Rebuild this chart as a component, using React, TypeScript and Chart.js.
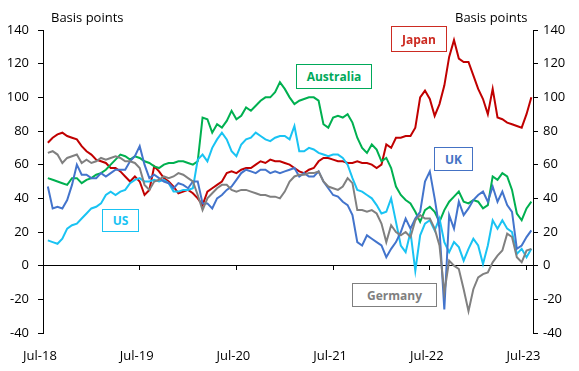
import React, { useEffect, useRef } from "react";
import { Chart, registerables } from "chart.js";

Chart.register(...registerables);

// Dates as decimal years (roughly every 18 days)
const DATES = [
  2018.55, 2018.6, 2018.65, 2018.7, 2018.75, 2018.8, 2018.85, 2018.9, 2018.95,
  2019.0, 2019.05, 2019.1, 2019.15, 2019.2, 2019.25, 2019.3, 2019.35, 2019.4, 2019.45, 2019.5,
  2019.55, 2019.6, 2019.65, 2019.7, 2019.75, 2019.8, 2019.85, 2019.9, 2019.95,
  2020.0, 2020.05, 2020.1, 2020.15, 2020.2, 2020.25, 2020.3, 2020.35, 2020.4, 2020.45, 2020.5,
  2020.55, 2020.6, 2020.65, 2020.7, 2020.75, 2020.8, 2020.85, 2020.9, 2020.95,
  2021.0, 2021.05, 2021.1, 2021.15, 2021.2, 2021.25, 2021.3, 2021.35, 2021.4, 2021.45, 2021.5,
  2021.55, 2021.6, 2021.65, 2021.7, 2021.75, 2021.8, 2021.85, 2021.9, 2021.95,
  2022.0, 2022.05, 2022.1, 2022.15, 2022.2, 2022.25, 2022.3, 2022.35, 2022.4, 2022.45, 2022.5,
  2022.55, 2022.6, 2022.65, 2022.7, 2022.75, 2022.8, 2022.85, 2022.9, 2022.95,
  2023.0, 2023.05, 2023.1, 2023.15, 2023.2, 2023.25, 2023.3, 2023.35, 2023.4, 2023.45, 2023.5,
  2023.55,
];

const JAPAN = [
  73, 76, 78, 79, 77, 76, 75, 71, 68, 66,
  63, 62, 61, 58, 58, 56, 53, 50, 53, 50,
  42, 45, 59, 56, 52, 50, 47, 43, 44, 45,
  43, 40, 36, 44, 46, 48, 50, 55, 56, 55,
  57, 58, 58, 60, 62, 61, 63, 62, 62, 61,
  60, 58, 56, 55, 57, 58, 62, 64, 64, 63,
  62, 62, 61, 61, 62, 61, 61, 60, 58, 60,
  72, 70, 76, 76, 77, 77, 82, 100, 104, 99,
  89, 96, 107, 124, 134, 123, 121, 121, 113, 105,
  99, 90, 105, 88, 87, 85, 84, 83, 82, 90, 100,
];

const AUSTRALIA = [
  52, 51, 50, 49, 48, 52, 52, 49, 51, 52,
  54, 55, 57, 60, 63, 66, 65, 63, 65, 64,
  62, 61, 59, 58, 60, 61, 61, 62, 62, 61,
  60, 62, 88, 87, 79, 84, 82, 86, 92, 87,
  89, 94, 92, 95, 98, 100, 100, 103, 109, 105,
  100, 96, 98, 99, 100, 100, 98, 84, 82, 88,
  89, 88, 90, 85, 76, 70, 67, 72, 69, 62,
  64, 58, 47, 42, 39, 37, 32, 26, 33, 35,
  32, 26, 33, 38, 41, 44, 38, 37, 39, 38,
  34, 36, 53, 51, 55, 53, 45, 31, 27, 34, 38,
];

const US = [
  15, 14, 13, 16, 22, 24, 25, 28, 31, 34,
  35, 37, 42, 44, 42, 44, 45, 49, 51, 52,
  50, 50, 51, 50, 51, 49, 44, 44, 45, 45,
  46, 63, 66, 62, 70, 75, 79, 75, 68, 65,
  72, 75, 76, 79, 77, 75, 74, 76, 77, 77,
  75, 83, 68, 68, 70, 69, 67, 66, 65, 66,
  66, 64, 60, 52, 45, 44, 42, 40, 36, 31,
  32, 40, 26, 12, 8, 20, -3, 18, 25, 27,
  21, 28, 14, 8, 14, 11, 3, 10, 16, 12,
  1, 12, 27, 22, 27, 22, 20, 7, 10, 5, 10,
];

const UK = [
  47, 34, 35, 34, 39, 48, 60, 54, 54, 52,
  52, 55, 53, 55, 57, 57, 57, 62, 65, 71,
  60, 52, 54, 52, 50, 49, 46, 49, 48, 46,
  50, 50, 37, 37, 34, 40, 42, 45, 47, 51,
  55, 57, 56, 55, 57, 57, 55, 56, 55, 56,
  57, 58, 53, 55, 53, 53, 56, 50, 46, 42,
  41, 38, 36, 30, 14, 12, 18, 16, 14, 12,
  5, 10, 14, 20, 28, 22, 28, 32, 50, 56,
  40, 22, -26, 30, 22, 38, 30, 34, 39, 42,
  44, 38, 47, 38, 44, 36, 32, 10, 12, 17, 21,
];

const GERMANY = [
  67, 68, 66, 61, 64, 65, 66, 61, 63, 61,
  62, 64, 63, 64, 65, 64, 62, 62, 61, 58,
  48, 45, 50, 51, 53, 52, 53, 55, 54, 52,
  50, 42, 33, 40, 43, 46, 48, 48, 45, 44,
  45, 45, 44, 43, 42, 42, 41, 41, 40, 44,
  50, 53, 54, 54, 55, 55, 56, 50, 47, 46,
  45, 47, 52, 49, 33, 33, 32, 33, 31, 25,
  14, 24, 20, 18, 20, 17, 27, 30, 28, 28,
  22, 12, -16, 3, 0, -2, -14, -27, -14, -7,
  -5, -4, 2, 6, 9, 19, 17, 5, 2, 9, 10,
];

const X_TICK_DATES = [2018.5, 2019.5, 2020.5, 2021.5, 2022.5, 2023.5];
const X_TICK_LABELS = ["Jul-18", "Jul-19", "Jul-20", "Jul-21", "Jul-22", "Jul-23"];
const X_MIN = 2018.5;
const X_MAX = 2023.567;
const Y_MIN = -40;
const Y_MAX = 140;
const Y_STEP = 20;
const AXIS_TITLE = "Basis points";

const SERIES = [
  { name: "Germany", values: GERMANY, color: "#808080" },
  { name: "UK", values: UK, color: "#4374CC" },
  { name: "US", values: US, color: "#19C3F3" },
  { name: "Australia", values: AUSTRALIA, color: "#00B050" },
  { name: "Japan", values: JAPAN, color: "#C00000" },
];

const LABEL_BOXES = [
  { text: "Japan", color: "#CC2B22", left: 391, top: 26, width: 56, height: 26 },
  { text: "Australia", color: "#00A95A", left: 296, top: 64, width: 76, height: 25 },
  { text: "UK", color: "#4472C4", left: 434, top: 147, width: 39, height: 24 },
  { text: "US", color: "#19C3F3", left: 102, top: 209, width: 37, height: 23 },
  { text: "Germany", color: "#7F7F7F", left: 352, top: 283, width: 85, height: 24 },
];

const FONT = "'Open Sans', 'Noto Sans', sans-serif";

export default function App() {
  const canvasRef = useRef<HTMLCanvasElement | null>(null);

  useEffect(() => {
    if (!canvasRef.current) return;
    const setTicks = (axis: any) => {
      axis.ticks = X_TICK_DATES.map((v) => ({ value: v }));
    };
    const chart = new Chart(canvasRef.current, {
      type: "line",
      data: {
        datasets: SERIES.map((s) => ({
          label: s.name,
          data: DATES.map((d, i) => ({ x: d, y: s.values[i] })),
          borderColor: s.color,
          backgroundColor: s.color,
          borderWidth: 2,
          pointRadius: 0,
          tension: 0,
          fill: false,
          xAxisID: "x",
          yAxisID: "y",
        })),
      },
      options: {
        animation: false,
        responsive: false,
        devicePixelRatio: 1,
        layout: { padding: { left: 7, right: 6, top: 30, bottom: 0 } },
        plugins: { legend: { display: false }, tooltip: { enabled: false } },
        scales: {
          x: {
            type: "linear",
            position: { y: 0 } as any,
            min: X_MIN,
            max: X_MAX,
            afterBuildTicks: setTicks,
            ticks: { display: false },
            grid: { drawOnChartArea: false, drawTicks: true, tickLength: 4, color: "#000" },
            border: { display: true, color: "#000", width: 1 },
          },
          xb: {
            type: "linear",
            position: "bottom",
            min: X_MIN,
            max: X_MAX,
            afterBuildTicks: setTicks,
            afterFit: (s: any) => {
              s.height = 38;
            },
            ticks: {
              autoSkip: false,
              maxRotation: 0,
              padding: 15,
              labelOffset: -3,
              color: "#000",
              font: { family: FONT, size: 13 },
              callback: (v: any) => {
                const i = X_TICK_DATES.indexOf(Number(v));
                return i >= 0 ? X_TICK_LABELS[i] : "";
              },
            },
            grid: { display: false, drawTicks: false },
            border: { display: false },
          },
          y: {
            position: "left",
            min: Y_MIN,
            max: Y_MAX,
            ticks: { stepSize: Y_STEP, padding: 9, color: "#000", font: { family: FONT, size: 13 } },
            grid: { drawOnChartArea: false, tickLength: 5, color: "#000" },
            border: { display: true, color: "#000", width: 1 },
            afterFit: (s: any) => {
              s.width = 36;
            },
          },
          y2: {
            position: "right",
            min: Y_MIN,
            max: Y_MAX,
            ticks: { stepSize: Y_STEP, padding: 5, color: "#000", font: { family: FONT, size: 13 } },
            grid: { drawOnChartArea: false, tickLength: 5, color: "#000" },
            border: { display: true, color: "#000", width: 1 },
            afterFit: (s: any) => {
              s.width = 40;
            },
          },
        },
      },
    });
    return () => chart.destroy();
  }, []);

  return (
    <div
      style={{
        position: "fixed",
        left: 0,
        top: 0,
        width: 579,
        height: 371,
        background: "#fff",
        fontFamily: FONT,
      }}
    >
      <canvas ref={canvasRef} width={579} height={371} style={{ width: 579, height: 371, display: "block" }} />
      <div style={{ position: "absolute", left: 51, top: 8, fontSize: 13, lineHeight: "18px", color: "#000" }}>
        {AXIS_TITLE}
      </div>
      <div style={{ position: "absolute", left: 455, top: 8, fontSize: 13, lineHeight: "18px", color: "#000" }}>
        {AXIS_TITLE}
      </div>
      {LABEL_BOXES.map((b) => (
        <div
          key={b.text}
          style={{
            position: "absolute",
            left: b.left,
            top: b.top,
            width: b.width,
            height: b.height,
            boxSizing: "border-box",
            border: `1px solid ${b.color}`,
            background: "#fff",
            color: b.color,
            fontWeight: 700,
            fontSize: 12,
            display: "flex",
            alignItems: "center",
            justifyContent: "center",
          }}
        >
          {b.text}
        </div>
      ))}
    </div>
  );
}
